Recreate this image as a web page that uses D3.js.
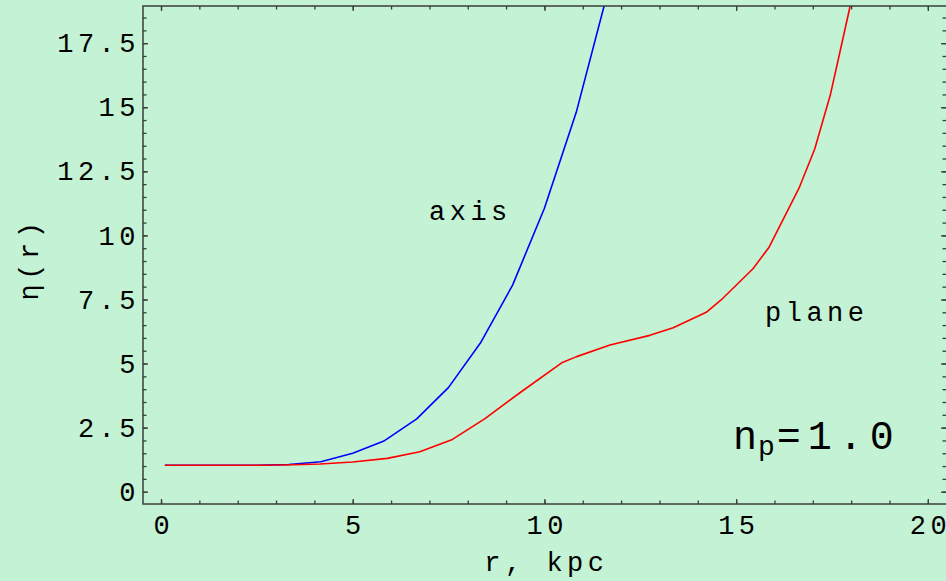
<!DOCTYPE html>
<html>
<head>
<meta charset="utf-8">
<script src="https://cdn.jsdelivr.net/npm/d3@7"></script>
<style>
  html, body { margin: 0; padding: 0; background: #c4f2d4; }
  svg { display: block; }
  text { font-family: "Liberation Mono", "DejaVu Sans Mono", monospace; fill: #000; }
</style>
</head>
<body>
<script>
// eta(r) along the rotation axis
const radiusAxis = [0.1, 0.83, 1.67, 2.5, 3.33, 4.17, 5.0, 5.83, 6.67, 7.5, 8.33, 9.17, 10.0, 10.83, 11.67];
const etaAxis    = [1.03, 1.03, 1.03, 1.03, 1.06, 1.17, 1.50, 1.99, 2.84, 4.07, 5.80, 8.06, 11.06, 14.8, 19.6];

// eta(r) in the galactic plane
const radiusPlane = [0.1, 0.83, 1.67, 2.5, 3.2, 4.15, 5.0, 5.9, 6.75, 7.6, 8.45, 9.36, 10.45, 10.84,
                     11.71, 12.75, 13.36, 14.22, 14.6, 15.44, 15.86, 16.64, 17.05, 17.46, 17.68, 17.97, 18.3];
const etaPlane    = [1.03, 1.03, 1.03, 1.03, 1.04, 1.08, 1.16, 1.30, 1.56, 2.04, 2.85, 3.86, 5.03, 5.27,
                     5.72, 6.10, 6.40, 7.00, 7.47, 8.70, 9.54, 11.84, 13.37, 15.5, 16.97, 18.92, 21.0];

// axis ticks
const xMajorTicks = [0, 5, 10, 15, 20];
const xMinorTicks = d3.range(0, 21, 1);
const yMajorTicks = [0, 2.5, 5, 7.5, 10, 12.5, 15, 17.5];
const yMajorLabels = ["0", "2.5", "5", "7.5", "10", "12.5", "15", "17.5"];
const yMinorTicks = d3.range(0, 19, 0.5);

// plot range
const xRange = [-0.47, 20.5];
const yRange = [-0.48, 18.95];

const W = 946, H = 581;
const frame = { left: 143, right: 947, top: 6, bottom: 504 };

const svg = d3.select("body").append("svg").attr("width", W).attr("height", H);
svg.append("rect").attr("width", W).attr("height", H).attr("fill", "#c4f2d4");

const x = d3.scaleLinear().domain(xRange).range([frame.left, frame.right]);
const y = d3.scaleLinear().domain(yRange).range([frame.bottom, frame.top]);

svg.append("defs").append("clipPath").attr("id", "plot-clip")
  .append("rect")
  .attr("x", frame.left).attr("y", frame.top)
  .attr("width", frame.right - frame.left).attr("height", frame.bottom - frame.top);

// curves
const line = d3.line().x(d => x(d[0])).y(d => y(d[1]));
const curves = svg.append("g").attr("clip-path", "url(#plot-clip)");
curves.append("path")
  .datum(d3.zip(radiusAxis, etaAxis))
  .attr("d", line).attr("fill", "none")
  .attr("stroke", "#0000ff").attr("stroke-width", 1.6).attr("stroke-linejoin", "round");
curves.append("path")
  .datum(d3.zip(radiusPlane, etaPlane))
  .attr("d", line).attr("fill", "none")
  .attr("stroke", "#ff0000").attr("stroke-width", 1.6).attr("stroke-linejoin", "round");

// frame with inward ticks on all four sides
const tickColor = "#3a3f3a";
const MAJ = 5, MIN = 3.5;
const labelStyle = sel => sel.selectAll("text")
  .attr("font-family", "'Liberation Mono', monospace")
  .attr("font-size", 27).attr("letter-spacing", 4.5).attr("fill", "#000");

function styleAxis(g) {
  g.select(".domain").remove();
  g.selectAll(".tick line").attr("stroke", tickColor).attr("stroke-width", 1.3);
}

// bottom
const gBottomMinor = svg.append("g").attr("transform", `translate(0,${frame.bottom})`)
  .call(d3.axisBottom(x).tickValues(xMinorTicks).tickSizeInner(-MIN).tickSizeOuter(0).tickFormat(""));
styleAxis(gBottomMinor);
const gBottom = svg.append("g").attr("transform", `translate(0,${frame.bottom})`)
  .call(d3.axisBottom(x).tickValues(xMajorTicks).tickSizeInner(-MAJ).tickSizeOuter(0).tickPadding(11)
        .tickFormat(d3.format("d")));
styleAxis(gBottom);
gBottom.call(labelStyle).selectAll("text").attr("dx", 2.2);

// top
const gTopMinor = svg.append("g").attr("transform", `translate(0,${frame.top})`)
  .call(d3.axisTop(x).tickValues(xMinorTicks).tickSizeInner(-MIN).tickSizeOuter(0).tickFormat(""));
styleAxis(gTopMinor);
const gTop = svg.append("g").attr("transform", `translate(0,${frame.top})`)
  .call(d3.axisTop(x).tickValues(xMajorTicks).tickSizeInner(-MAJ).tickSizeOuter(0).tickFormat(""));
styleAxis(gTop);

// left
const gLeftMinor = svg.append("g").attr("transform", `translate(${frame.left},0)`)
  .call(d3.axisLeft(y).tickValues(yMinorTicks).tickSizeInner(-MIN).tickSizeOuter(0).tickFormat(""));
styleAxis(gLeftMinor);
const gLeft = svg.append("g").attr("transform", `translate(${frame.left},0)`)
  .call(d3.axisLeft(y).tickValues(yMajorTicks).tickSizeInner(-MAJ).tickSizeOuter(0).tickPadding(3)
        .tickFormat((d, i) => yMajorLabels[i]));
styleAxis(gLeft);
gLeft.call(labelStyle);

// right
const gRightMinor = svg.append("g").attr("transform", `translate(${frame.right - 1},0)`)
  .call(d3.axisRight(y).tickValues(yMinorTicks).tickSizeInner(-MIN).tickSizeOuter(0).tickFormat(""));
styleAxis(gRightMinor);
const gRight = svg.append("g").attr("transform", `translate(${frame.right - 1},0)`)
  .call(d3.axisRight(y).tickValues(yMajorTicks).tickSizeInner(-MAJ).tickSizeOuter(0).tickFormat(""));
styleAxis(gRight);

svg.append("rect")
  .attr("x", frame.left).attr("y", frame.top)
  .attr("width", frame.right - frame.left).attr("height", frame.bottom - frame.top)
  .attr("fill", "none").attr("stroke", tickColor).attr("stroke-width", 1.5);

// axis titles
svg.append("text")
  .attr("x", (x(0) + x(20)) / 2 + 2).attr("y", 571)
  .attr("text-anchor", "middle").attr("font-size", 27).attr("letter-spacing", 4.5)
  .text("r, kpc");

svg.append("text")
  .attr("transform", `translate(38,${(frame.top + frame.bottom) / 2 + 4}) rotate(-90)`)
  .attr("text-anchor", "middle").attr("font-size", 27).attr("letter-spacing", 4.5)
  .text("η(r)");

// curve labels
svg.append("text").attr("x", 429).attr("y", 220)
  .attr("font-size", 27).attr("letter-spacing", 4.5).text("axis");
svg.append("text").attr("x", 765).attr("y", 321)
  .attr("font-size", 27).attr("letter-spacing", 4.5).text("plane");

// parameter annotation
const ann = svg.append("text").attr("x", 733).attr("y", 449).attr("font-size", 40);
ann.append("tspan").text("n");
ann.append("tspan").attr("font-size", 28).attr("dy", 6).attr("dx", 1).text("p");
ann.append("tspan").attr("dy", -6).attr("dx", 2).attr("letter-spacing", 7).text("=1.0");
</script>
</body>
</html>
